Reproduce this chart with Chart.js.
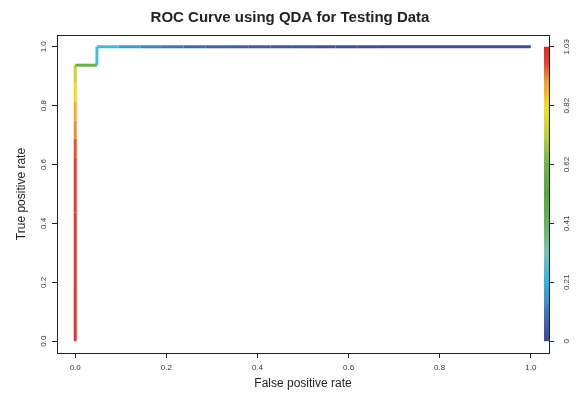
<!DOCTYPE html>
<html>
<head>
<meta charset="utf-8">
<script src="https://cdn.jsdelivr.net/npm/chart.js@4/dist/chart.umd.min.js"></script>
<style>
  html, body { margin: 0; padding: 0; background: #ffffff; }
  canvas { display: block; }
</style>
</head>
<body>
<canvas id="roc" width="580" height="396"></canvas>
<script>
// ROC curve points (false positive rate, true positive rate) and the cutoff reached at each point
const fpr = [
  0, 0, 0, 0, 0, 0, 0, 0, 0, 0, 0, 0, 0, 0, 0, 0,
  0.0476, 0.0476, 0.0952, 0.1429, 0.1905, 0.2381, 0.2857, 0.3333, 0.3810, 0.4286,
  0.4762, 0.5238, 0.5714, 0.6190, 0.6667, 0.7143, 0.7619, 0.8095, 0.8571, 0.9048,
  0.9524, 1.0
];
const tpr = [
  0, 0.0625, 0.125, 0.1875, 0.25, 0.3125, 0.375, 0.4375, 0.5, 0.5625, 0.625, 0.6875,
  0.75, 0.8125, 0.875, 0.9375,
  0.9375, 1, 1, 1, 1, 1, 1, 1, 1, 1,
  1, 1, 1, 1, 1, 1, 1, 1, 1, 1,
  1, 1
];
const cutoff = [
  1.03, 1.00, 1.00, 1.00, 0.99, 0.99, 0.99, 0.99, 0.98, 0.98, 0.98, 0.96,
  0.92, 0.88, 0.83, 0.74,
  0.58, 0.24, 0.23, 0.16, 0.12, 0.10, 0.08, 0.06, 0.05, 0.04,
  0.03, 0.02, 0.015, 0.01, 0.005, 0.004, 0.003, 0.002, 0.001, 0.0005,
  0.0002, 0.0001
];

// Axis ticks
const xTicks = [0, 0.2, 0.4, 0.6, 0.8, 1.0];
const yTicks = [0, 0.2, 0.4, 0.6, 0.8, 1.0];
const cbTicks = [0, 0.206, 0.412, 0.618, 0.824, 1.03];
const cbLabels = ['0', '0.21', '0.41', '0.62', '0.82', '1.03'];
const cbMax = 1.03;

// Colour ramp used for the cutoff scale (value -> colour)
const rampStops = [
  [0.00, '#3a4c9e'],
  [0.08, '#3d68b4'],
  [0.15, '#3897d4'],
  [0.21, '#2db6e6'],
  [0.31, '#78c6b4'],
  [0.41, '#66b460'],
  [0.52, '#58a83c'],
  [0.62, '#6eb644'],
  [0.72, '#bcd232'],
  [0.82, '#f3e01c'],
  [0.91, '#f59a2c'],
  [0.975, '#ec3a2e'],
  [1.03, '#e8262a']
];

function hexToRgb(h) {
  const n = parseInt(h.slice(1), 16);
  return [(n >> 16) & 255, (n >> 8) & 255, n & 255];
}
function rampColor(v) {
  if (v <= rampStops[0][0]) return rampStops[0][1];
  for (let i = 1; i < rampStops.length; i++) {
    const [v1, c1] = rampStops[i];
    if (v <= v1) {
      const [v0, c0] = rampStops[i - 1];
      const t = (v - v0) / (v1 - v0);
      const a = hexToRgb(c0), b = hexToRgb(c1);
      const m = a.map((x, k) => Math.round(x + (b[k] - x) * t));
      return `rgb(${m[0]},${m[1]},${m[2]})`;
    }
  }
  return rampStops[rampStops.length - 1][1];
}

const FONT = "'Liberation Sans', Arial, Helvetica, sans-serif";
const AXIS = '#222222';
const TICKTXT = '#333333';

// Colour bar along the right edge plus the frame around the plotting region
const frameAndBar = {
  id: 'frameAndBar',
  afterDatasetsDraw(chart) {
    const { ctx, chartArea } = chart;
    const s = chart.scales.y2;
    const yTop = s.getPixelForValue(cbMax);
    const yBot = s.getPixelForValue(0);
    const g = ctx.createLinearGradient(0, yBot, 0, yTop);
    rampStops.forEach(([v, c]) => g.addColorStop(v / cbMax, c));
    ctx.save();
    ctx.fillStyle = g;
    ctx.fillRect(chartArea.right - 5, yTop, 5, yBot - yTop);
    ctx.strokeStyle = AXIS;
    ctx.lineWidth = 1;
    ctx.strokeRect(Math.round(chartArea.left) + 0.5, Math.round(chartArea.top) + 0.5,
      Math.round(chartArea.right - chartArea.left), Math.round(chartArea.bottom - chartArea.top));
    ctx.restore();
  }
};

const tickFont = { family: FONT, size: 8 };

new Chart(document.getElementById('roc'), {
  type: 'line',
  data: {
    datasets: [{
      data: fpr.map((x, i) => ({ x, y: tpr[i] })),
      borderWidth: 3,
      pointRadius: 0,
      tension: 0,
      borderCapStyle: 'butt',
      borderColor: rampColor(cutoff[1]),
      segment: {
        borderColor: c => rampColor(cutoff[c.p1DataIndex])
      }
    }]
  },
  options: {
    responsive: false,
    animation: false,
    devicePixelRatio: 1,
    layout: { padding: 0 },
    plugins: {
      legend: { display: false },
      tooltip: { enabled: false },
      title: {
        display: true,
        text: 'ROC Curve using QDA for Testing Data',
        color: AXIS,
        font: { family: FONT, size: 15, weight: 'bold' },
        padding: { top: 8.5, bottom: 8.5 }
      }
    },
    scales: {
      x: {
        type: 'linear',
        min: -0.04, max: 1.04,
        afterBuildTicks: s => { s.ticks = xTicks.map(v => ({ value: v })); },
        afterFit: s => { s.height = 43; },
        grid: { drawOnChartArea: false, tickLength: 5, tickColor: AXIS },
        border: { color: AXIS },
        ticks: { font: tickFont, color: TICKTXT, padding: 5, maxRotation: 0, callback: v => v.toFixed(1) },
        title: { display: true, text: 'False positive rate', color: AXIS,
          font: { family: FONT, size: 12 }, padding: { top: 0, bottom: 5 } }
      },
      y: {
        type: 'linear',
        position: 'left',
        min: -0.04, max: 1.04,
        afterBuildTicks: s => { s.ticks = yTicks.map(v => ({ value: v })); },
        afterFit: s => { s.width = 57; },
        grid: { drawOnChartArea: false, tickLength: 5, tickColor: AXIS },
        border: { color: AXIS },
        ticks: { font: tickFont, color: TICKTXT, padding: 3, minRotation: 90, maxRotation: 90,
          crossAlign: 'center', callback: v => v.toFixed(1) },
        title: { display: true, text: 'True positive rate', color: AXIS,
          font: { family: FONT, size: 12 }, padding: { top: 14.5, bottom: 0 } }
      },
      y2: {
        type: 'linear',
        position: 'right',
        min: -0.04 * cbMax, max: 1.04 * cbMax,
        afterBuildTicks: s => { s.ticks = cbTicks.map(v => ({ value: v })); },
        afterFit: s => { s.width = 31; },
        grid: { drawOnChartArea: false, tickLength: 5, tickColor: AXIS },
        border: { color: AXIS },
        ticks: { font: tickFont, color: TICKTXT, padding: 5, minRotation: 90, maxRotation: 90,
          crossAlign: 'center', callback: (v, i) => cbLabels[i] }
      }
    }
  },
  plugins: [frameAndBar]
});
</script>
</body>
</html>
